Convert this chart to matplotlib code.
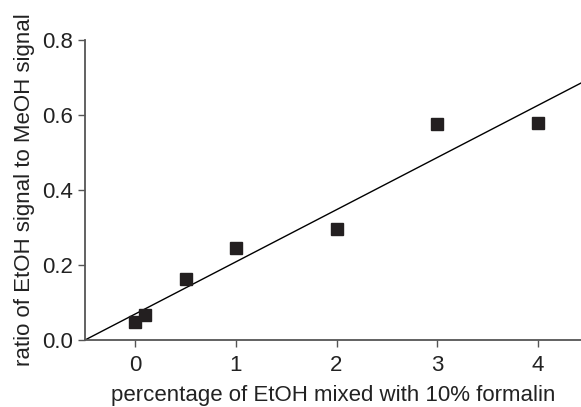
import matplotlib
matplotlib.use("Agg")
import matplotlib.pyplot as plt
import numpy as np

plt.rcParams["font.family"] = ["Liberation Sans", "DejaVu Sans"]

# data
pct_etoh = [0, 0.1, 0.5, 1, 2, 3, 4]
ratio = [0.049, 0.067, 0.163, 0.246, 0.296, 0.575, 0.578]
fit_slope = 0.139
fit_intercept = 0.0695

xlim = (-0.5, 4.43)
ylim = (0, 0.8)

fig = plt.figure(figsize=(5.81, 4.07), dpi=100)
ax = fig.add_axes([0.1463, 0.1646, 1.0 - 0.1463, 0.9017 - 0.1646])

xx = np.array(xlim)
ax.plot(xx, fit_slope * xx + fit_intercept, color="black", lw=1.0, zorder=2)
ax.plot(pct_etoh, ratio, "s", color="#231f20", markersize=8.6, zorder=3,
        clip_on=False)

ax.set_xlim(*xlim)
ax.set_ylim(*ylim)
ax.set_xticks([0, 1, 2, 3, 4])
ax.set_yticks([0.0, 0.2, 0.4, 0.6, 0.8])
ax.set_yticklabels(["0.0", "0.2", "0.4", "0.6", "0.8"])

for s in ["top", "right"]:
    ax.spines[s].set_visible(False)
for s in ["left", "bottom"]:
    ax.spines[s].set_color("#555555")
    ax.spines[s].set_linewidth(1.3)

ax.tick_params(direction="out", length=5, width=1, color="#555555",
               labelsize=16, labelcolor="#222222", pad=3.5)
ax.tick_params(axis="x", pad=6)

ax.set_xlabel("percentage of EtOH mixed with 10% formalin", fontsize=16,
              color="#222222", labelpad=6)
ax.set_ylabel("ratio of EtOH signal to MeOH signal", fontsize=16,
              color="#222222", labelpad=5)

fig.savefig("out.png", dpi=100)
